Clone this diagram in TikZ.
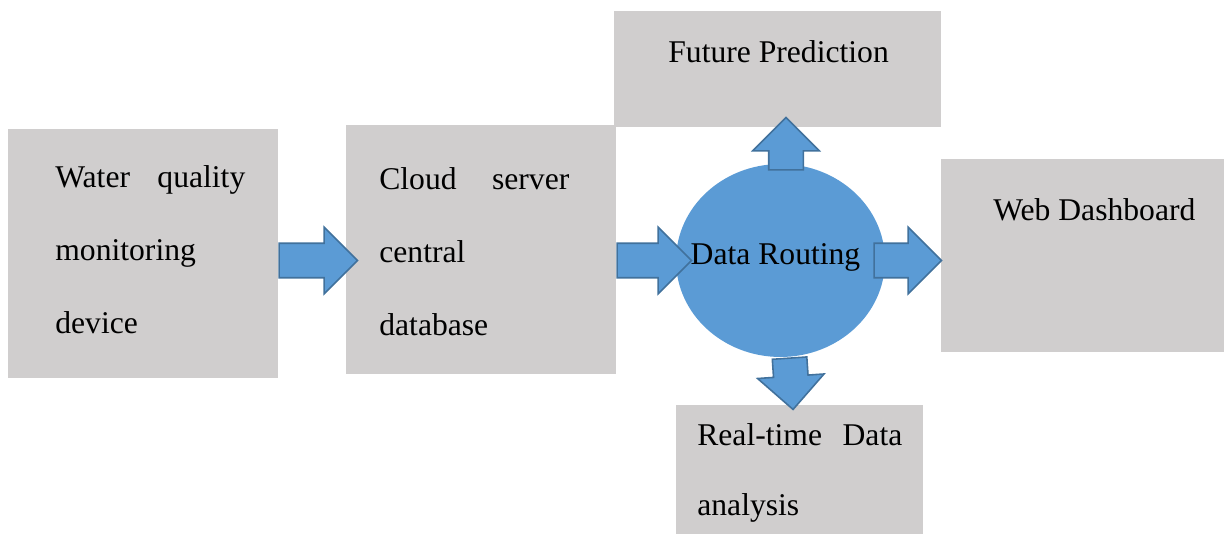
\documentclass[tikz,border=0pt]{standalone}
\usepackage{fontspec}
\setmainfont{Liberation Serif}
\usetikzlibrary{shapes.geometric,shapes.arrows,calc}

\definecolor{boxgray}{HTML}{D0CECE}
\definecolor{flowblue}{HTML}{5B9BD5}
\definecolor{flowline}{HTML}{41719C}

\tikzset{
  panel/.style={fill=boxgray, inner sep=0pt},
  flow/.style={single arrow, draw=flowline, fill=flowblue, line width=0.9pt,
    inner xsep=0pt, inner ysep=0.33cm, single arrow head extend=0.32cm},
  boxtext/.style={font=\fontsize{18}{41.5}\selectfont, inner sep=0pt, align=left}
}

% block arrow between two points
\newcommand\flowarrow[2]{%
  \path let \p1=(#1), \p2=(#2),
    \n1={atan2(\y2-\y1,\x2-\x1)}, \n2={veclen(\x2-\x1,\y2-\y1)} in
    (\p1) node[flow, anchor=tail, rotate=\n1, minimum height=\n2] {};}

\begin{document}
\begin{tikzpicture}[x=0.02cm, y=-0.02cm]
	\useasboundingbox (0,0) rectangle (1224,534);
	
	\node[panel, minimum width=5.4cm, minimum height=4.98cm] (wq) at (143,253.5) {};
	\node[panel, minimum width=5.4cm, minimum height=4.98cm] (cloud) at (481,249.5) {};
	\node[panel, minimum width=6.54cm, minimum height=2.32cm] (future) at (777.5,69) {};
	\node[panel, minimum width=5.66cm, minimum height=3.86cm] (web) at (1082.5,255.5) {};
	\node[panel, minimum width=4.94cm, minimum height=2.62cm] (rt) at (799.5,470.5) {};
	\node[ellipse, fill=flowblue, inner sep=0pt, minimum width=4.18cm, minimum height=3.86cm] (route) at (780.5,260.5) {};
	
	\flowarrow{wq.east |- route.center}{[xshift=0.22cm]cloud.west |- route.center}
	\flowarrow{cloud.east |- route.center}{[xshift=0.3cm]route.west}
	\flowarrow{[xshift=-0.24cm]route.east}{web.west |- route.center}
	\flowarrow{[xshift=0.11cm,yshift=-0.14cm]route.north}{[xshift=0.17cm,yshift=0.18cm]future.south}
	\flowarrow{[xshift=0.18cm]route.south}{[xshift=-0.13cm,yshift=-0.08cm]rt.north}
	
	\node[boxtext, anchor=base west] (wqtext) at (55,333) {\makebox[3.8cm][s]{Water quality}\\monitoring\\device};
	\node[boxtext, anchor=base west] (cloudtext) at (379,335.5) {\makebox[3.8cm][s]{Cloud server}\\central\\database};
	\node[boxtext, anchor=base west] (futuretext) at (668,62) {Future Prediction};
	\node[boxtext, anchor=base] (routetext) at (775.5,264) {Data Routing};
	\node[boxtext, anchor=base west] (webtext) at (993,220) {Web Dashboard};
	\node[boxtext, font=\fontsize{18}{39.8}\selectfont, anchor=base west] (rttext) at (697,515) {\makebox[4.1cm][s]{Real-time Data}\\analysis};
\end{tikzpicture}
\end{document}
